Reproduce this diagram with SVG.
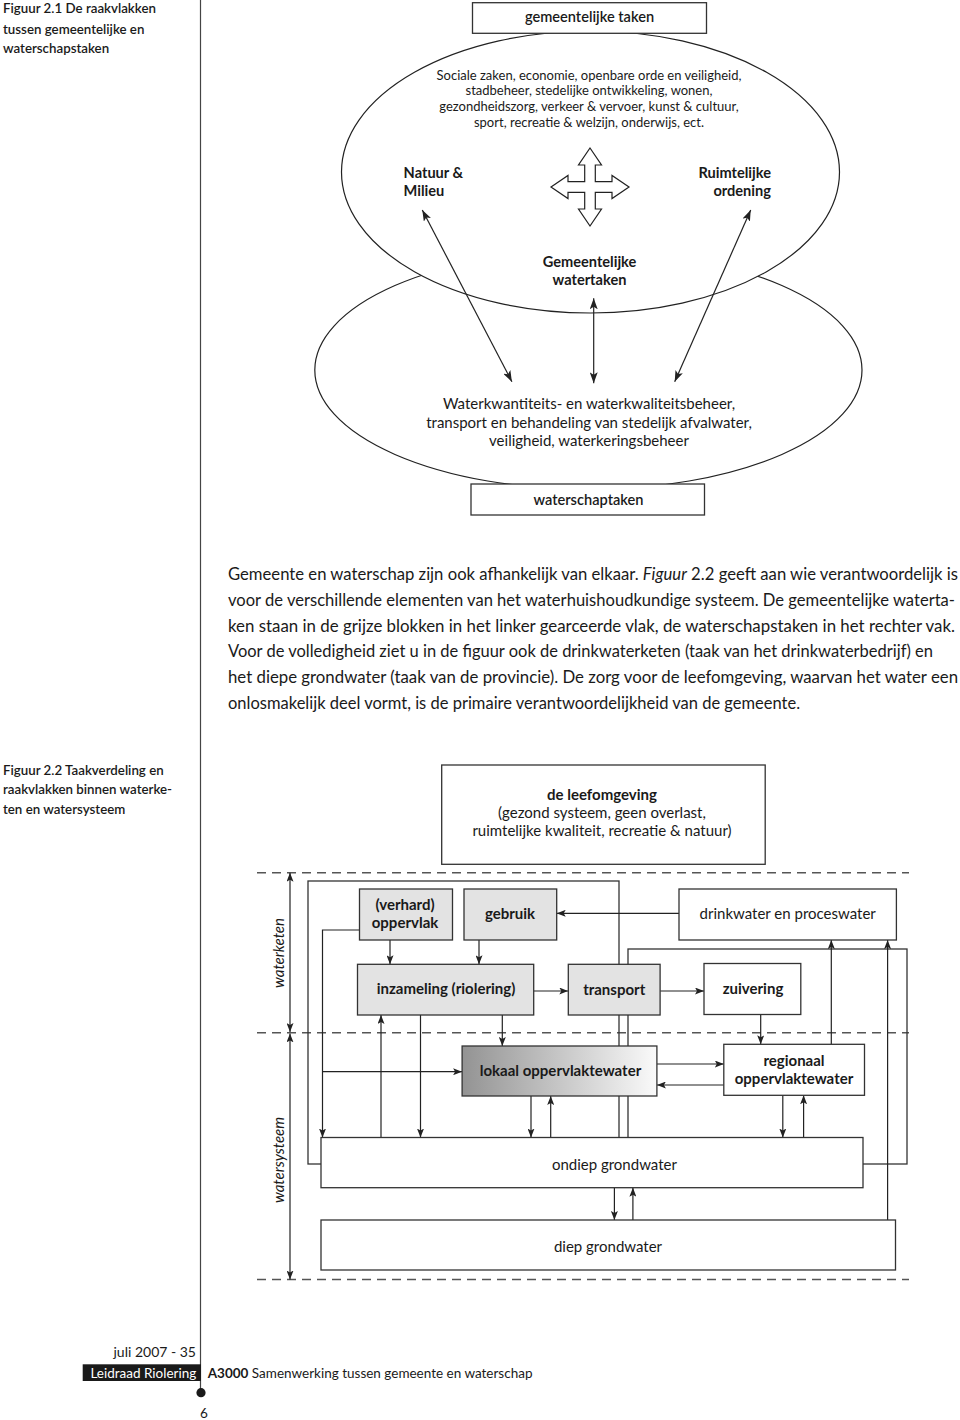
<svg xmlns="http://www.w3.org/2000/svg" width="960" height="1420" viewBox="0 0 960 1420">
<style>
.t{font-family:Lato,"Liberation Sans",sans-serif;fill:#1a1a1a}
.b{font-weight:700}
.sb{font-weight:600}
.i{font-style:italic}
.m{text-anchor:middle}
.e{text-anchor:end}
.box{fill:#fff;stroke:#333;stroke-width:1.3}
.gray{fill:#e3e3e3;stroke:#333;stroke-width:1.3}
.frame{fill:none;stroke:#333;stroke-width:1.3}
.ln{fill:none;stroke:#222;stroke-width:1.2}
.dash{stroke:#555;stroke-width:1.4;stroke-dasharray:9 6;fill:none}
.a1{marker-end:url(#ah1)}
.a2{marker-start:url(#ah1);marker-end:url(#ah1)}
.b1{marker-end:url(#ah2)}
.b2{marker-start:url(#ah2);marker-end:url(#ah2)}
</style>
<defs>
<marker id="ah1" viewBox="0 0 11 8" refX="11" refY="4" markerWidth="11" markerHeight="8" markerUnits="userSpaceOnUse" orient="auto-start-reverse"><path d="M0,0 L11,4 L0,8 L2.5,4 z" fill="#222"/></marker>
<marker id="ah2" viewBox="0 0 9 7" refX="9" refY="3.5" markerWidth="9" markerHeight="7" markerUnits="userSpaceOnUse" orient="auto-start-reverse"><path d="M0,0 L9,3.5 L0,7 L2,3.5 z" fill="#222"/></marker>
<linearGradient id="grad" x1="0" y1="0" x2="1" y2="0"><stop offset="0" stop-color="#939393"/><stop offset="1" stop-color="#fafafa"/></linearGradient>
</defs>

<rect width="960" height="1420" fill="#fff"/>

<!-- page rule -->
<g id="page-rule">
<line x1="200.5" y1="0" x2="200.5" y2="1392" stroke="#444" stroke-width="1.2"/>
<circle cx="201" cy="1392.7" r="4.6" fill="#1a1a1a"/>
</g>

<!-- captions -->
<g id="caption-2-1" class="t sb" font-size="13.3">
<text x="3" y="13">Figuur 2.1 De raakvlakken</text>
<text x="3" y="33.7">tussen gemeentelijke en</text>
<text x="3" y="53">waterschapstaken</text>
</g>
<g id="caption-2-2" class="t sb" font-size="13.3">
<text x="3" y="775.4">Figuur 2.2 Taakverdeling en</text>
<text x="3" y="794">raakvlakken binnen waterke-</text>
<text x="3" y="813.7">ten en watersysteem</text>
</g>

<!-- Figure 2.1 -->
<g id="waterschap-ellipse">
<ellipse cx="588.4" cy="370" rx="273.6" ry="119.4" fill="#fff" stroke="#222" stroke-width="1.2"/>
<text class="t m" font-size="15" x="589" y="408.5">Waterkwantiteits- en waterkwaliteitsbeheer,</text>
<text class="t m" font-size="15" x="589" y="427.5">transport en behandeling van stedelijk afvalwater,</text>
<text class="t m" font-size="15" x="589" y="446">veiligheid, waterkeringsbeheer</text>
</g>
<g id="gemeente-ellipse">
<ellipse cx="590.5" cy="172" rx="249" ry="141" fill="#fff" stroke="#222" stroke-width="1.2"/>
<text class="t m" font-size="13" x="589" y="79.5">Sociale zaken, economie, openbare orde en veiligheid,</text>
<text class="t m" font-size="13" x="589" y="95.3">stadbeheer, stedelijke ontwikkeling, wonen,</text>
<text class="t m" font-size="13" x="589" y="111.2">gezondheidszorg, verkeer &amp; vervoer, kunst &amp; cultuur,</text>
<text class="t m" font-size="13" x="589" y="127">sport, recreatie &amp; welzijn, onderwijs, ect.</text>
</g>
<g id="gemeentelijke-taken">
<rect class="box" x="472.5" y="2.7" width="234" height="30.6"/>
<text class="t m sb" font-size="14.6" x="589.5" y="21.7">gemeentelijke taken</text>
</g>
<g id="waterschaptaken">
<rect class="box" x="471" y="484" width="233.5" height="31"/>
<text class="t m sb" font-size="14.6" x="588.5" y="504.5">waterschaptaken</text>
</g>
<g id="natuur-milieu">
<text class="t b" font-size="14.6" x="403.6" y="177.5">Natuur &amp;</text>
<text class="t b" font-size="14.6" x="403.6" y="196">Milieu</text>
</g>
<g id="ruimtelijke-ordening">
<text class="t b e" font-size="14.6" x="771" y="177.5">Ruimtelijke</text>
<text class="t b e" font-size="14.6" x="771" y="196">ordening</text>
</g>
<g id="gemeentelijke-watertaken">
<text class="t b m" font-size="14.6" x="589.5" y="267">Gemeentelijke</text>
<text class="t b m" font-size="14.6" x="589.5" y="284.6">watertaken</text>
</g>
<g id="cross-arrow">
<path d="M590,148 L601.5,165 L595.3,165 L595.3,181.7 L612,181.7 L612,175.5 L629,187 L612,198.5 L612,192.3 L595.3,192.3 L595.3,209 L601.5,209 L590,226 L578.5,209 L584.7,209 L584.7,192.3 L568,192.3 L568,198.5 L551,187 L568,175.5 L568,181.7 L584.7,181.7 L584.7,165 L578.5,165 Z" fill="#fff" stroke="#222" stroke-width="1.2" stroke-linejoin="miter"/>
</g>
<g id="connectors-fig1" class="ln">
<line class="a2" x1="422.3" y1="210" x2="511.9" y2="381.7"/>
<line class="a2" x1="750.7" y1="210" x2="674.7" y2="381.7"/>
<line class="a2" x1="593.7" y1="298.3" x2="593.7" y2="383.3"/>
</g>

<!-- paragraph -->
<g id="paragraph" class="t" font-size="16.5">
<text x="228" y="580" textLength="730" lengthAdjust="spacingAndGlyphs">Gemeente en waterschap zijn ook afhankelijk van elkaar. <tspan class="i">Figuur</tspan> 2.2 geeft aan wie verantwoordelijk is</text>
<text x="228" y="605.8" textLength="727" lengthAdjust="spacingAndGlyphs">voor de verschillende elementen van het waterhuishoudkundige systeem. De gemeentelijke waterta-</text>
<text x="228" y="631.6" textLength="727" lengthAdjust="spacingAndGlyphs">ken staan in de grijze blokken in het linker gearceerde vlak, de waterschapstaken in het rechter vak.</text>
<text x="228" y="657.4" textLength="705" lengthAdjust="spacingAndGlyphs">Voor de volledigheid ziet u in de figuur ook de drinkwaterketen (taak van het drinkwaterbedrijf) en</text>
<text x="228" y="683.2" textLength="730" lengthAdjust="spacingAndGlyphs">het diepe grondwater (taak van de provincie). De zorg voor de leefomgeving, waarvan het water een</text>
<text x="228" y="709">onlosmakelijk deel vormt, is de primaire verantwoordelijkheid van de gemeente.</text>
</g>

<!-- Figure 2.2 -->
<g id="leefomgeving">
<rect class="box" x="441.7" y="765" width="323.5" height="99.3"/>
<text class="t b m" font-size="15" x="602" y="799.5">de leefomgeving</text>
<text class="t m" font-size="15" x="602" y="818">(gezond systeem, geen overlast,</text>
<text class="t m" font-size="15" x="602" y="836.3">ruimtelijke kwaliteit, recreatie &amp; natuur)</text>
</g>

<g id="zones">
<line class="dash" x1="257" y1="872.7" x2="909" y2="872.7"/>
<line class="dash" x1="257" y1="1032.7" x2="909" y2="1032.7"/>
<line class="dash" x1="257" y1="1279.5" x2="909" y2="1279.5"/>
<text class="t i m" font-size="15" transform="translate(283.7,953) rotate(-90)">waterketen</text>
<text class="t i m" font-size="15" transform="translate(283.7,1160) rotate(-90)">watersysteem</text>
</g>

<g id="frames">
<rect class="frame" x="308" y="881" width="311" height="283"/>
<rect class="frame" x="628" y="949" width="279" height="215"/>
</g>

<g id="connectors" class="ln">
<path class="b2" d="M290,872.7 V1032"/>
<path class="b2" d="M290,1033.4 V1279.5"/>
<path class="b1" d="M679,913.3 H556.7"/>
<path class="b1" d="M359.5,930 H322.5 V1137.5"/>
<path class="b1" d="M322.5,1071.7 H462.1"/>
<path class="b1" d="M390,940 V964.3"/>
<path class="b1" d="M479,940 V964.3"/>
<path class="b1" d="M533.7,991 H568.3"/>
<path class="b1" d="M660.1,991 H704"/>
<path class="b1" d="M502.3,1015 V1046"/>
<path class="b1" d="M760.7,1014.5 V1044.3"/>
<path class="b1" d="M656.9,1064 H723.8"/>
<path class="b1" d="M723.8,1085 H656.9"/>
<path class="b1" d="M381,1137.5 V1015"/>
<path class="b1" d="M420.5,1015 V1137.5"/>
<path class="b1" d="M531,1096 V1137.5"/>
<path class="b1" d="M550.7,1137.5 V1096"/>
<path class="b1" d="M782.8,1095.3 V1137.5"/>
<path class="b1" d="M803.6,1137.5 V1095.3"/>
<path class="b1" d="M831.3,1044.3 V940"/>
<path class="b1" d="M887.6,1220 V940"/>
<path class="b1" d="M614.4,1187.7 V1220"/>
<path class="b1" d="M632.9,1220 V1187.7"/>
</g>

<g id="oppervlak">
<rect class="gray" x="359.5" y="889" width="93" height="51"/>
<text class="t b m" font-size="15" x="405" y="909.5">(verhard)</text>
<text class="t b m" font-size="15" x="405" y="927.5">oppervlak</text>
</g>
<g id="gebruik">
<rect class="gray" x="464" y="889" width="92.7" height="51"/>
<text class="t b m" font-size="15" x="510" y="918.5">gebruik</text>
</g>
<g id="drinkwater">
<rect class="box" x="679" y="889" width="217.4" height="51"/>
<text class="t m" font-size="15" x="787.7" y="919">drinkwater en proceswater</text>
</g>
<g id="inzameling">
<rect class="gray" x="357.5" y="964.3" width="176.2" height="50.7"/>
<text class="t b m" font-size="15" x="446" y="994">inzameling (riolering)</text>
</g>
<g id="transport">
<rect class="gray" x="568.3" y="964.3" width="91.8" height="50.7"/>
<text class="t b m" font-size="15" x="614.2" y="994.5">transport</text>
</g>
<g id="zuivering">
<rect class="box" x="704" y="963.5" width="96.8" height="51"/>
<text class="t b m" font-size="15" x="753" y="993.5">zuivering</text>
</g>
<g id="lokaal">
<rect x="462.1" y="1046" width="194.8" height="50" fill="url(#grad)" stroke="#333" stroke-width="1.3"/>
<text class="t b m" font-size="15" x="560.5" y="1076.2">lokaal oppervlaktewater</text>
</g>
<g id="regionaal">
<rect class="box" x="723.8" y="1044.3" width="140.7" height="51"/>
<text class="t b m" font-size="15" x="794" y="1066">regionaal</text>
<text class="t b m" font-size="15" x="794" y="1083.5">oppervlaktewater</text>
</g>
<g id="ondiep">
<rect class="box" x="321" y="1137.5" width="542" height="50.2"/>
<text class="t m" font-size="15" x="614.4" y="1169.5">ondiep grondwater</text>
</g>
<g id="diep">
<rect class="box" x="321" y="1220" width="574.5" height="50"/>
<text class="t m" font-size="15" x="608" y="1252">diep grondwater</text>
</g>

<!-- footer -->
<g id="footer">
<text class="t e" font-size="14" x="196" y="1357">juli 2007 - 35</text>
<rect x="82.7" y="1364.3" width="118.3" height="16.7" fill="#1a1a1a"/>
<text font-family="Lato,'Liberation Sans',sans-serif" font-size="13.5" fill="#fff" x="90.4" y="1378">Leidraad Riolering</text>
<text class="t" font-size="13.5" x="207.7" y="1378"><tspan class="b">A3000</tspan> Samenwerking tussen gemeente en waterschap</text>
<text class="t m" font-size="13.5" x="203.8" y="1418">6</text>
</g>
</svg>
